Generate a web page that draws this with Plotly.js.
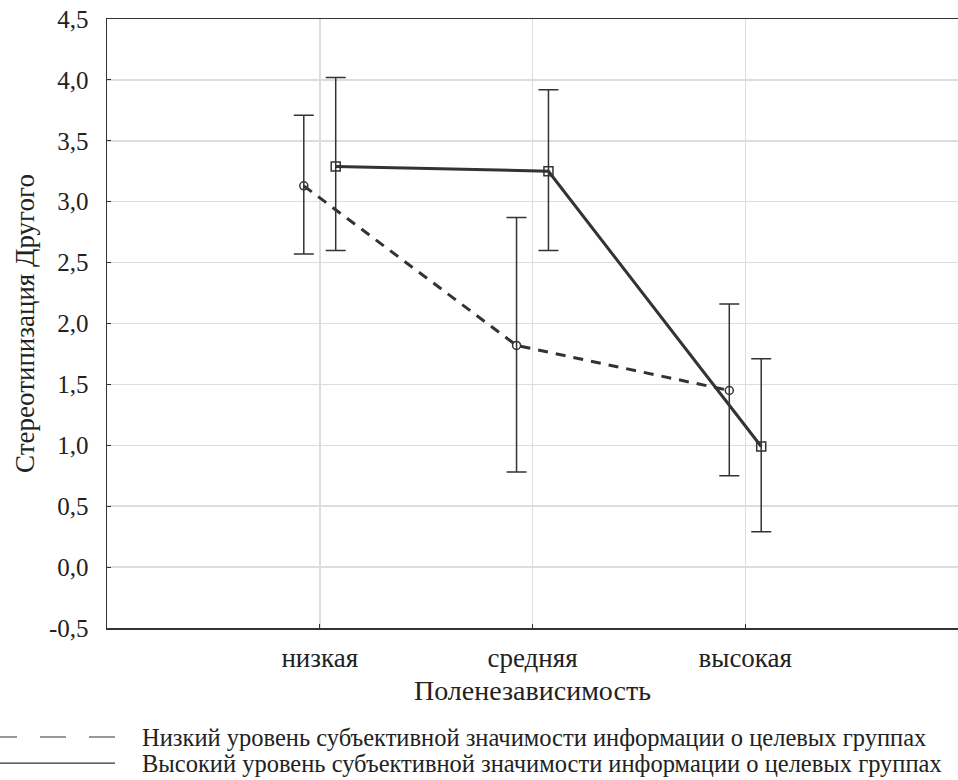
<!DOCTYPE html>
<html><head><meta charset="utf-8">
<script src="https://cdn.plot.ly/plotly-3.0.1.min.js"></script>
<style>html,body{margin:0;padding:0;background:#fff}</style>
</head><body><div id="chart" style="width:958px;height:780px"></div>
<script>
const categories = ['низкая', 'средняя', 'высокая'];
const seriesNames = [
  'Низкий уровень субъективной значимости информации о целевых группах',
  'Высокий уровень субъективной значимости информации о целевых группах'
];
const lowMean = [3.13, 1.82, 1.45];
const lowUpper = [3.71, 2.87, 2.16];
const lowLower = [2.57, 0.78, 0.75];
const highMean = [3.29, 3.25, 0.99];
const highUpper = [4.02, 3.92, 1.71];
const highLower = [2.60, 2.60, 0.29];
const yTicks = [-0.5, 0, 0.5, 1, 1.5, 2, 2.5, 3, 3.5, 4, 4.5];
const yTickText = ['-0,5', '0,0', '0,5', '1,0', '1,5', '2,0', '2,5', '3,0', '3,5', '4,0', '4,5'];

const lineColor = '#333333';
const serif = 'Liberation Serif';
const textColor = '#222222';

function errs(mean, up, lo) {
  return {
    type: 'data', symmetric: false,
    array: mean.map((m, i) => +(up[i] - m).toFixed(3)),
    arrayminus: mean.map((m, i) => +(m - lo[i]).toFixed(3)),
    color: lineColor, thickness: 1.5, width: 10
  };
}

const traces = [
  {
    x: categories, y: lowMean, name: seriesNames[0], type: 'scatter', mode: 'lines+markers',
    line: {color: lineColor, width: 3, dash: '10px,8px'},
    marker: {symbol: 'circle-open', size: 8, color: lineColor, line: {width: 1.5}},
    error_y: errs(lowMean, lowUpper, lowLower), showlegend: false
  },
  {
    x: categories, y: highMean, name: seriesNames[1], type: 'scatter', mode: 'lines+markers',
    line: {color: lineColor, width: 3},
    marker: {symbol: 'square-open', size: 9, color: lineColor, line: {width: 1.5}},
    error_y: errs(highMean, highUpper, highLower), showlegend: false
  }
];

const layout = {
  width: 958, height: 780,
  margin: {l: 107, r: 0, t: 19, b: 152},
  paper_bgcolor: '#fff', plot_bgcolor: '#fff',
  scattermode: 'group', scattergap: 0.7,
  font: {family: serif, color: textColor, size: 24},
  showlegend: false,
  xaxis: {
    type: 'category', range: [-1, 3],
    showgrid: true, gridcolor: '#dddddd', gridwidth: 1.5,
    showline: true, mirror: true, linecolor: lineColor, linewidth: 1.5,
    ticks: 'inside', ticklen: 4, tickcolor: lineColor,
    tickfont: {family: serif, size: 27, color: textColor},
    ticklabelstandoff: 5, zeroline: false,
    title: {text: 'Поленезависимость', font: {family: serif, size: 28, color: textColor}, standoff: 8}
  },
  yaxis: {
    range: [-0.5, 4.5], tickvals: yTicks, ticktext: yTickText,
    showgrid: true, gridcolor: '#dddddd', gridwidth: 1.5,
    showline: true, mirror: true, linecolor: lineColor, linewidth: 1.5,
    ticks: 'inside', ticklen: 4, tickcolor: lineColor,
    tickfont: {family: serif, size: 25, color: textColor},
    ticklabelstandoff: 12, zeroline: false,
    title: {text: 'Стереотипизация Другого', font: {family: serif, size: 27, color: textColor}, standoff: 6}
  },
  annotations: [
    {xref: 'paper', yref: 'paper', x: 0.0388, y: -0.179, text: seriesNames[0], showarrow: false,
     xanchor: 'left', yanchor: 'middle', font: {family: serif, size: 24.5, color: textColor}},
    {xref: 'paper', yref: 'paper', x: 0.0388, y: -0.222, text: seriesNames[1], showarrow: false,
     xanchor: 'left', yanchor: 'middle', font: {family: serif, size: 24.5, color: textColor}}
  ],
  shapes: [
    {type: 'line', xref: 'paper', yref: 'paper', x0: 0.0094, x1: -0.1363, y0: -0.179, y1: -0.179,
     line: {color: lineColor, width: 1.2, dash: '26px,23px'}},
    {type: 'line', xref: 'paper', yref: 'paper', x0: -0.1257, x1: 0.0094, y0: -0.222, y1: -0.222,
     line: {color: lineColor, width: 1.2}}
  ]
};

Plotly.newPlot('chart', traces, layout, {displayModeBar: false, staticPlot: true});
</script>
</body></html>
